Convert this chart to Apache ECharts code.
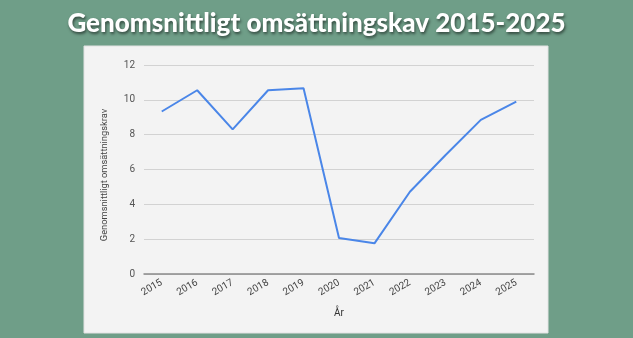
<!DOCTYPE html>
<html>
<head>
<meta charset="utf-8">
<script src="https://cdn.jsdelivr.net/npm/echarts@6/dist/echarts.min.js"></script>
<style>
  html, body { margin: 0; padding: 0; background: #6f9e88; }
  #chart { width: 633px; height: 338px; }
</style>
</head>
<body>
<div id="chart"></div>
<script>
// Average turnover requirement per year
const years = ['2015','2016','2017','2018','2019','2020','2021','2022','2023','2024','2025'];
const omsattningskrav = [9.33, 10.55, 8.3, 10.55, 10.67, 2.07, 1.76, 4.72, 6.82, 8.85, 9.9];
const yTicks = [0, 2, 4, 6, 8, 10, 12];

const chart = echarts.init(document.getElementById('chart'));
chart.setOption({
  backgroundColor: '#6f9e88',
  animation: false,
  title: {
    text: 'Genomsnittligt omsättningskav 2015-2025',
    left: 'center',
    top: 6,
    textStyle: {
      fontFamily: 'Lato',
      fontWeight: 900,
      fontSize: 26,
      color: '#ffffff',
      textShadowColor: 'rgba(0,0,0,0.55)',
      textShadowBlur: 3,
      textShadowOffsetX: 1,
      textShadowOffsetY: 2
    }
  },
  graphic: [{
    type: 'rect',
    z: -1,
    shape: { x: 84, y: 46, width: 464, height: 287 },
    style: { fill: '#f3f3f3', stroke: '#e2e2e2', lineWidth: 1 }
  }],
  grid: { left: 144, right: 99, top: 65, bottom: 64 },
  xAxis: {
    type: 'category',
    data: years,
    boundaryGap: true,
    name: 'År',
    nameLocation: 'middle',
    nameGap: 34,
    nameTextStyle: { color: '#333', fontSize: 10, fontFamily: 'Roboto' },
    axisLine: { lineStyle: { color: '#8a8a8a', width: 1.5 } },
    axisTick: { show: false },
    axisLabel: { rotate: 30, color: '#444', fontSize: 10, fontFamily: 'Roboto', margin: 8 }
  },
  yAxis: {
    type: 'value',
    min: yTicks[0],
    max: yTicks[yTicks.length - 1],
    interval: 2,
    name: 'Genomsnittligt omsättningskrav',
    nameLocation: 'middle',
    nameGap: 35,
    nameTextStyle: { color: '#444', fontSize: 9.3, fontFamily: 'Roboto', padding: [0, 11, 0, 0] },
    axisLine: { show: false },
    axisTick: { show: false },
    axisLabel: { color: '#555', fontSize: 10, fontFamily: 'Roboto', margin: 9 },
    splitLine: { lineStyle: { color: '#d2d2d2', width: 1 } }
  },
  series: [{
    type: 'line',
    data: omsattningskrav,
    symbol: 'none',
    lineStyle: { color: '#4a86e8', width: 2 }
  }]
});
</script>
</body>
</html>
